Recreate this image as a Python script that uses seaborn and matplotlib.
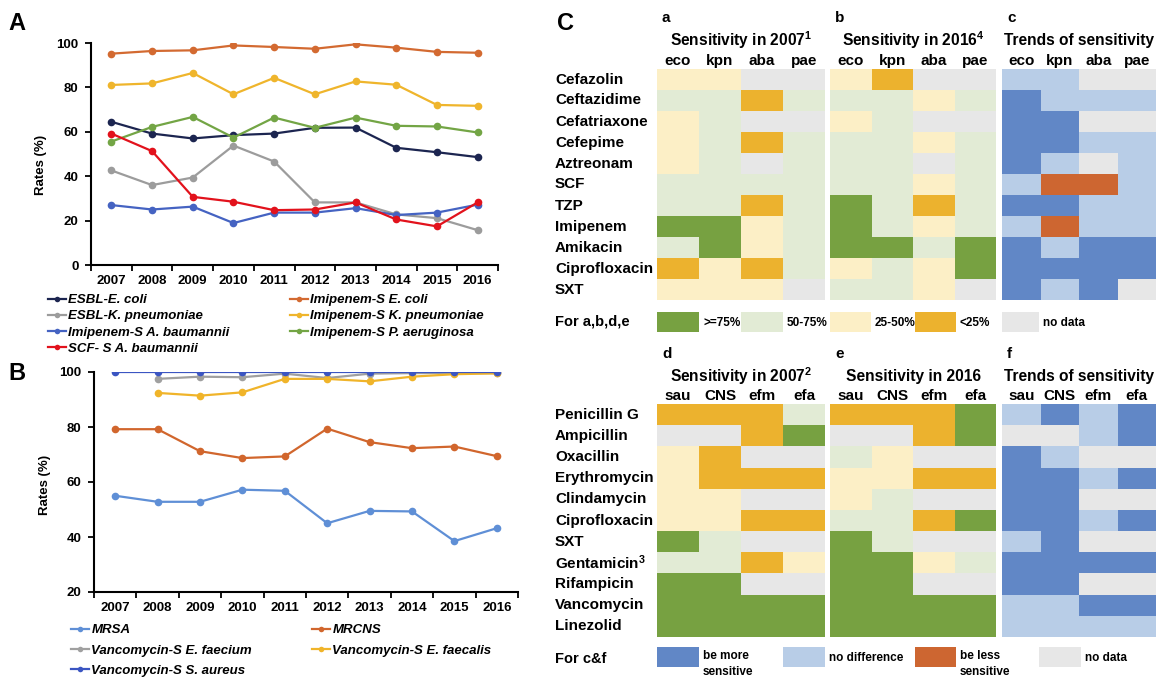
import numpy as np
import pandas as pd
import seaborn as sns
import matplotlib.pyplot as plt
from matplotlib.colors import ListedColormap
from matplotlib.patches import Rectangle
from matplotlib.lines import Line2D

# ---- data: panel A (gram-negative rates, %) ----
years = [2007, 2008, 2009, 2010, 2011, 2012, 2013, 2014, 2015, 2016]
esbl_eco = [64.5, 59.2, 57.0, 58.5, 59.2, 61.8, 61.9, 52.8, 50.8, 48.6]
imi_eco = [95.2, 96.4, 96.7, 98.9, 98.2, 97.4, 99.4, 97.9, 96.0, 95.6]
esbl_kpn = [42.6, 36.0, 39.4, 53.8, 46.6, 28.2, 28.2, 22.8, 21.1, 15.7]
imi_kpn = [81.1, 81.8, 86.5, 76.9, 84.3, 76.9, 82.7, 81.2, 72.1, 71.7]
imi_aba = [27.0, 25.0, 26.3, 18.9, 23.6, 23.6, 25.6, 22.5, 23.6, 27.2]
imi_pae = [55.6, 62.2, 66.7, 57.4, 66.4, 61.8, 66.4, 62.7, 62.4, 59.7]
scf_aba = [59.2, 51.3, 30.7, 28.5, 24.7, 25.0, 28.2, 20.5, 17.4, 28.2]

# ---- data: panel B (gram-positive rates, %) ----
mrsa = [55.0, 52.8, 52.8, 57.2, 56.8, 45.0, 49.5, 49.3, 38.5, 43.2]
mrcns = [79.2, 79.2, 71.2, 68.7, 69.3, 79.4, 74.5, 72.3, 72.9, 69.4]
van_efm = [np.nan, 97.5, 98.3, 98.1, 99.4, 97.8, 99.4, 99.6, 99.6, 99.6]
van_efa = [np.nan, 92.4, 91.4, 92.6, 97.5, 97.5, 96.6, 98.3, 99.2, 99.5]
van_sau = [100, 100, 100, 100, 100, 100, 100, 100, 100, 100]

# ---- data: panel C heatmaps ----
# sensitivity codes: 0 no data, 1 >=75%, 2 50-75%, 3 25-50%, 4 <25%
# trend codes: 0 no data, 1 more sensitive, 2 no difference, 3 less sensitive
gn_cols = ['eco', 'kpn', 'aba', 'pae']
gn_rows = ['Cefazolin', 'Ceftazidime', 'Cefatriaxone', 'Cefepime', 'Aztreonam', 'SCF',
           'TZP', 'Imipenem', 'Amikacin', 'Ciprofloxacin', 'SXT']
gn_2007 = [[3, 3, 0, 0], [2, 2, 4, 2], [3, 2, 0, 0], [3, 2, 4, 2], [3, 2, 0, 2], [2, 2, 2, 2],
           [2, 2, 4, 2], [1, 1, 3, 2], [2, 1, 3, 2], [4, 3, 4, 2], [3, 3, 3, 0]]
gn_2016 = [[3, 4, 0, 0], [2, 2, 3, 2], [3, 2, 0, 0], [2, 2, 3, 2], [2, 2, 0, 2], [2, 2, 3, 2],
           [1, 2, 4, 2], [1, 2, 3, 2], [1, 1, 2, 1], [3, 2, 3, 1], [2, 2, 3, 0]]
gn_trend = [[2, 2, 0, 0], [1, 2, 2, 2], [1, 1, 0, 0], [1, 1, 2, 2], [1, 2, 0, 2], [2, 3, 3, 2],
            [1, 1, 2, 2], [2, 3, 2, 2], [1, 2, 1, 1], [1, 1, 1, 1], [1, 2, 1, 0]]

gp_cols = ['sau', 'CNS', 'efm', 'efa']
gp_rows = ['Penicillin G', 'Ampicillin', 'Oxacillin', 'Erythromycin', 'Clindamycin',
           'Ciprofloxacin', 'SXT', 'Gentamicin$^3$', 'Rifampicin', 'Vancomycin', 'Linezolid']
gp_2007 = [[4, 4, 4, 2], [0, 0, 4, 1], [3, 4, 0, 0], [3, 4, 4, 4], [3, 3, 0, 0], [3, 3, 4, 4],
           [1, 2, 0, 0], [2, 2, 4, 3], [1, 1, 0, 0], [1, 1, 1, 1], [1, 1, 1, 1]]
gp_2016 = [[4, 4, 4, 1], [0, 0, 4, 1], [2, 3, 0, 0], [3, 3, 4, 4], [3, 2, 0, 0], [2, 2, 4, 1],
           [1, 2, 0, 0], [1, 1, 3, 2], [1, 1, 0, 0], [1, 1, 1, 1], [1, 1, 1, 1]]
gp_trend = [[2, 1, 2, 1], [0, 0, 2, 1], [1, 2, 0, 0], [1, 1, 2, 1], [1, 1, 0, 0], [1, 1, 2, 1],
            [2, 1, 0, 0], [1, 1, 1, 1], [1, 1, 0, 0], [2, 2, 1, 1], [2, 2, 2, 2]]

plt.rcParams['font.family'] = ['Liberation Sans', 'DejaVu Sans']
plt.rcParams['font.weight'] = 'bold'
plt.rcParams['mathtext.default'] = 'regular'

W, H = 1156, 677
fig = plt.figure(figsize=(W / 100, H / 100), dpi=100)


def px_axes(x0, y0, x1, y1):
    return fig.add_axes([x0 / W, 1 - y1 / H, (x1 - x0) / W, (y1 - y0) / H])


def px_text(x, y, s, **kw):
    kw.setdefault('va', 'center')
    kw.setdefault('fontweight', 'bold')
    return fig.text(x / W, 1 - y / H, s, **kw)


def px_box(x0, y0, x1, y1, color):
    fig.add_artist(Rectangle((x0 / W, 1 - y1 / H), (x1 - x0) / W, (y1 - y0) / H,
                             transform=fig.transFigure, color=color, lw=0))


def long_frame(series):
    rows = []
    for name, vals in series.items():
        for yr, v in zip(years, vals):
            rows.append((yr, v, name))
    return pd.DataFrame(rows, columns=['year', 'rate', 'series']).dropna()


def line_panel(ax, series, colors, ylim, yticks):
    df = long_frame(series)
    sns.lineplot(data=df, x='year', y='rate', hue='series', hue_order=list(series),
                 palette=colors, marker='o', markersize=5.5, markeredgewidth=0,
                 linewidth=1.6, legend=False, errorbar=None, ax=ax)
    sns.despine(ax=ax)
    ax.set_xlim(2006.5, 2016.5)
    ax.set_ylim(*ylim)
    ax.set_xticks(years)
    ax.set_xticks(np.arange(2006.5, 2017, 1), minor=True)
    ax.set_yticks(yticks)
    ax.tick_params(axis='x', which='major', length=0, pad=7, labelsize=9.5)
    ax.tick_params(axis='x', which='minor', length=4, width=1.3, direction='out')
    ax.tick_params(axis='y', length=4, width=1.3, labelsize=9.5, pad=5)
    for s in ('left', 'bottom'):
        ax.spines[s].set_linewidth(1.5)
    ax.set_xlabel('')
    ax.set_ylabel('')
    ax.patch.set_alpha(0)


def line_legend(names, colors, x, y, spacing):
    handles = [Line2D([], [], color=colors[n], marker='o', markersize=4, lw=1.6,
                      markeredgewidth=0) for n in names]
    fig.legend(handles, names, loc='upper left', bbox_to_anchor=(x / W, 1 - y / H),
               frameon=False, borderpad=0, borderaxespad=0, handlelength=1.35,
               handletextpad=0.2, labelspacing=spacing,
               prop={'style': 'italic', 'weight': 'bold', 'size': 9.5})


# ---- panel A ----
a_series = {'ESBL-E. coli': esbl_eco, 'Imipenem-S E. coli': imi_eco,
            'ESBL-K. pneumoniae': esbl_kpn, 'Imipenem-S K. pneumoniae': imi_kpn,
            'Imipenem-S A. baumannii': imi_aba, 'Imipenem-S P. aeruginosa': imi_pae,
            'SCF- S A. baumannii': scf_aba}
a_colors = {'ESBL-E. coli': '#1c2550', 'Imipenem-S E. coli': '#d36a31',
            'ESBL-K. pneumoniae': '#9c9c9c', 'Imipenem-S K. pneumoniae': '#efb52c',
            'Imipenem-S A. baumannii': '#4563c2', 'Imipenem-S P. aeruginosa': '#73a545',
            'SCF- S A. baumannii': '#e2121c'}
axA = px_axes(91, 43, 498, 265)
line_panel(axA, a_series, a_colors, (0, 100), [0, 20, 40, 60, 80, 100])
px_text(41, 165, 'Rates (%)', rotation=90, ha='center', fontsize=9.5)
px_text(17, 23, 'A', ha='center', fontsize=17)
line_legend(['ESBL-E. coli', 'ESBL-K. pneumoniae', 'Imipenem-S A. baumannii',
             'SCF- S A. baumannii'], a_colors, 48, 294, 0.3)
line_legend(['Imipenem-S E. coli', 'Imipenem-S K. pneumoniae',
             'Imipenem-S P. aeruginosa'], a_colors, 290, 294, 0.3)

# ---- panel B ----
b_series = {'MRSA': mrsa, 'MRCNS': mrcns, 'Vancomycin-S E. faecium': van_efm,
            'Vancomycin-S E. faecalis': van_efa, 'Vancomycin-S S. aureus': van_sau}
b_colors = {'MRSA': '#5f8fd6', 'MRCNS': '#d1662d', 'Vancomycin-S E. faecium': '#a0a0a0',
            'Vancomycin-S E. faecalis': '#f0b42a', 'Vancomycin-S S. aureus': '#3b55c2'}
axB = px_axes(94, 372, 518, 592)
line_panel(axB, b_series, b_colors, (20, 100), [20, 40, 60, 80, 100])
px_text(45, 485, 'Rates (%)', rotation=90, ha='center', fontsize=9.5)
px_text(17, 374, 'B', ha='center', fontsize=17)
line_legend(['MRSA', 'Vancomycin-S E. faecium', 'Vancomycin-S S. aureus'],
            b_colors, 71, 624, 0.62)
line_legend(['MRCNS', 'Vancomycin-S E. faecalis'], b_colors, 312, 624, 0.62)

# ---- panel C ----
sens_colors = ['#e7e7e7', '#77a141', '#e2ebd5', '#fcefc6', '#ecb22e']
trend_colors = ['#e7e7e7', '#6187c6', '#b8cde7', '#cd6631']
sens_cmap = ListedColormap(sens_colors)
trend_cmap = ListedColormap(trend_colors)


def heat_panel(box, data, cmap, cols, rows=None):
    ax = px_axes(*box)
    n = cmap.N
    sns.heatmap(np.array(data), ax=ax, cmap=cmap, vmin=-0.5, vmax=n - 0.5, cbar=False,
                xticklabels=cols, yticklabels=rows if rows else False)
    ax.xaxis.tick_top()
    ax.tick_params(axis='x', length=0, pad=1, labelsize=11, rotation=0)
    if rows:
        ax.tick_params(axis='y', length=0, pad=73.5, labelsize=11, rotation=0)
        for lab in ax.get_yticklabels():
            lab.set_ha('left')
    else:
        ax.tick_params(axis='y', length=0)
    return ax


top_y, bot_y = (69, 300), (404, 637)
cols_x = [(657, 825), (830, 996), (1002, 1156)]

heat_panel((cols_x[0][0], top_y[0], cols_x[0][1], top_y[1]), gn_2007, sens_cmap, gn_cols, gn_rows)
heat_panel((cols_x[1][0], top_y[0], cols_x[1][1], top_y[1]), gn_2016, sens_cmap, gn_cols)
heat_panel((cols_x[2][0], top_y[0], cols_x[2][1], top_y[1]), gn_trend, trend_cmap, gn_cols)
heat_panel((cols_x[0][0], bot_y[0], cols_x[0][1], bot_y[1]), gp_2007, sens_cmap, gp_cols, gp_rows)
heat_panel((cols_x[1][0], bot_y[0], cols_x[1][1], bot_y[1]), gp_2016, sens_cmap, gp_cols)
heat_panel((cols_x[2][0], bot_y[0], cols_x[2][1], bot_y[1]), gp_trend, trend_cmap, gp_cols)

px_text(565, 24, 'C', ha='center', fontsize=17)
for lx, ly, s in [(662, 18, 'a'), (835, 18, 'b'), (1007, 18, 'c'),
                  (662, 354, 'd'), (835, 354, 'e'), (1007, 354, 'f')]:
    px_text(lx, ly, s, ha='left', fontsize=11)
titles_top = ['Sensitivity in 2007$^1$', 'Sensitivity in 2016$^4$', 'Trends of sensitivity']
titles_bot = ['Sensitivity in 2007$^2$', 'Sensitivity in 2016', 'Trends of sensitivity']
for (x0, x1), t1, t2 in zip(cols_x, titles_top, titles_bot):
    px_text((x0 + x1) / 2, 40, t1, ha='center', fontsize=11.2)
    px_text((x0 + x1) / 2, 376, t2, ha='center', fontsize=11.2)

# legends of panel C
px_text(555, 322, 'For a,b,d,e', ha='left', fontsize=10.5)
sens_legend = [(657, 699, sens_colors[1], '>=75%'), (741, 783, sens_colors[2], '50-75%'),
               (830, 871, sens_colors[3], '25-50%'), (915, 956, sens_colors[4], '<25%'),
               (1002, 1039, sens_colors[0], 'no data')]
for x0, x1, c, lab in sens_legend:
    px_box(x0, 312, x1, 332, c)
    px_text(x1 + 4, 323, lab, ha='left', fontsize=8.5)

px_text(555, 659, 'For c&f', ha='left', fontsize=10.5)
trend_legend = [(657, 699, trend_colors[1], 'be more\nsensitive'),
                (783, 825, trend_colors[2], 'no difference'),
                (915, 956, trend_colors[3], 'be less\nsensitive'),
                (1039, 1081, trend_colors[0], 'no data')]
for x0, x1, c, lab in trend_legend:
    px_box(x0, 647, x1, 667, c)
    if '\n' in lab:
        px_text(x1 + 4, 650, lab, ha='left', va='top', fontsize=8.5, linespacing=1.4)
    else:
        px_text(x1 + 4, 658, lab, ha='left', fontsize=8.5)

fig.savefig('out.png', dpi=100)
